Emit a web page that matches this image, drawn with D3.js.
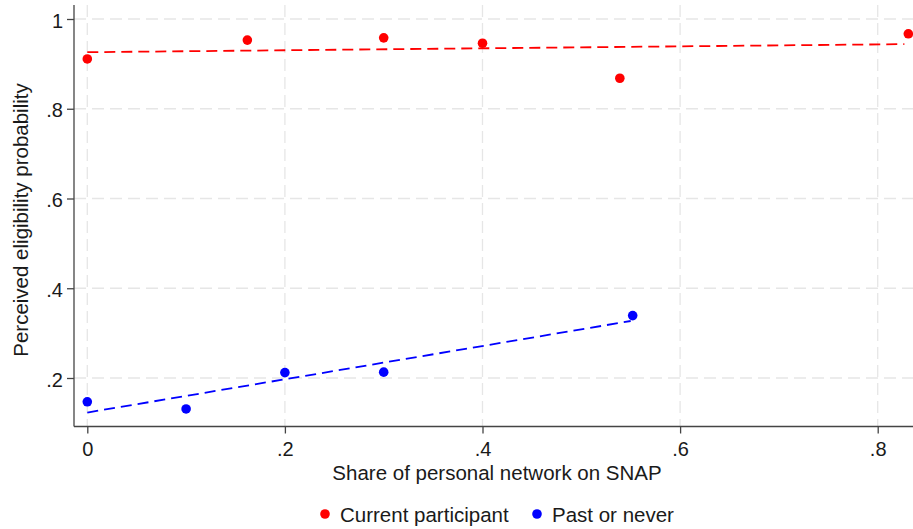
<!DOCTYPE html>
<html>
<head>
<meta charset="utf-8">
<script src="https://cdn.jsdelivr.net/npm/d3@7"></script>
<style>
  body { margin: 0; background: #fff; }
  text { font-family: "Liberation Sans", Arial, sans-serif; fill: #1a1a1a; }
</style>
</head>
<body>
<div id="chart"></div>
<script>
const width = 913;
const height = 529;

// data
const currentX = [0, 0.162, 0.30, 0.40, 0.539, 0.831];
const currentY = [0.911, 0.953, 0.958, 0.946, 0.868, 0.967];
const pastX = [0, 0.10, 0.20, 0.30, 0.552];
const pastY = [0.147, 0.131, 0.212, 0.213, 0.339];
const currentFit = [[0, 0.926], [0.827, 0.944]];
const pastFit = [[0, 0.123], [0.55, 0.327]];
const xTicks = [0, 0.2, 0.4, 0.6, 0.8];
const yTicks = [0.2, 0.4, 0.6, 0.8, 1];
const seriesNames = ["Current participant", "Past or never"];
const seriesColors = ["#ff0000", "#0000ff"];

const margin = {left: 74, right: 0, top: 5, bottom: 103};

const x = d3.scaleLinear().domain([0, 0.8]).range([87.3, 877.7]);
const y = d3.scaleLinear().domain([0.2, 1]).range([378, 19]);

const svg = d3.select("#chart").append("svg")
  .attr("width", width)
  .attr("height", height);

const plotBottom = height - margin.bottom + 0.5;

// grid
svg.append("g").selectAll("line").data(yTicks).join("line")
  .attr("x1", margin.left).attr("x2", width)
  .attr("y1", d => y(d)).attr("y2", d => y(d))
  .attr("stroke", "#e6e6e6").attr("stroke-width", 1.3)
  .attr("stroke-dasharray", "12,6");
svg.append("g").selectAll("line").data(xTicks).join("line")
  .attr("x1", d => x(d)).attr("x2", d => x(d))
  .attr("y1", margin.top).attr("y2", plotBottom)
  .attr("stroke", "#e6e6e6").attr("stroke-width", 1.3)
  .attr("stroke-dasharray", "12,6");

// axes
const yAxis = svg.append("g")
  .attr("transform", `translate(${margin.left},0)`)
  .call(d3.axisLeft(y).tickValues(yTicks).tickSize(7).tickPadding(4)
    .tickFormat(d => d === 1 ? "1" : d3.format(".1f")(d).replace(/^0/, "")));
yAxis.select(".domain").attr("d", `M0,${margin.top}V${plotBottom}`).attr("stroke", "#444").attr("stroke-width", 1.3);
yAxis.selectAll(".tick line").attr("stroke", "#444").attr("stroke-width", 1.3);
yAxis.selectAll("text").style("font-size", "20px").attr("dy", "0.4em").attr("fill", "#1a1a1a");

const xAxis = svg.append("g")
  .attr("transform", `translate(0,${plotBottom})`)
  .call(d3.axisBottom(x).tickValues(xTicks).tickSize(7).tickPadding(8)
    .tickFormat(d => d === 0 ? "0" : d3.format(".1f")(d).replace(/^0/, "")));
xAxis.select(".domain").attr("d", `M${margin.left},0H${width}`).attr("stroke", "#444").attr("stroke-width", 1.3);
xAxis.selectAll(".tick line").attr("stroke", "#444").attr("stroke-width", 1.3);
xAxis.selectAll("text").style("font-size", "20px").attr("fill", "#1a1a1a");

// fit lines
const line = d3.line().x(d => x(d[0])).y(d => y(d[1]));
[currentFit, pastFit].forEach((f, i) => {
  svg.append("path").datum(f)
    .attr("d", line)
    .attr("fill", "none")
    .attr("stroke", seriesColors[i])
    .attr("stroke-width", 1.8)
    .attr("stroke-dasharray", "11,6");
});

// points
[[currentX, currentY], [pastX, pastY]].forEach((s, i) => {
  svg.append("g").selectAll("circle").data(s[0]).join("circle")
    .attr("cx", d => x(d))
    .attr("cy", (d, j) => y(s[1][j]))
    .attr("r", 4.8)
    .attr("fill", seriesColors[i]);
});

// axis titles
svg.append("text")
  .attr("x", 497).attr("y", 480)
  .attr("text-anchor", "middle")
  .style("font-size", "20.5px")
  .text("Share of personal network on SNAP");

svg.append("text")
  .attr("transform", `translate(28,${220}) rotate(-90)`)
  .attr("text-anchor", "middle")
  .style("font-size", "20.5px")
  .text("Perceived eligibility probability");

// legend
const legendX = [325, 537];
seriesNames.forEach((n, i) => {
  svg.append("circle")
    .attr("cx", legendX[i]).attr("cy", 514).attr("r", 4.8)
    .attr("fill", seriesColors[i]);
  svg.append("text")
    .attr("x", legendX[i] + 15).attr("y", 522)
    .style("font-size", "20.5px")
    .text(n);
});
</script>
</body>
</html>
